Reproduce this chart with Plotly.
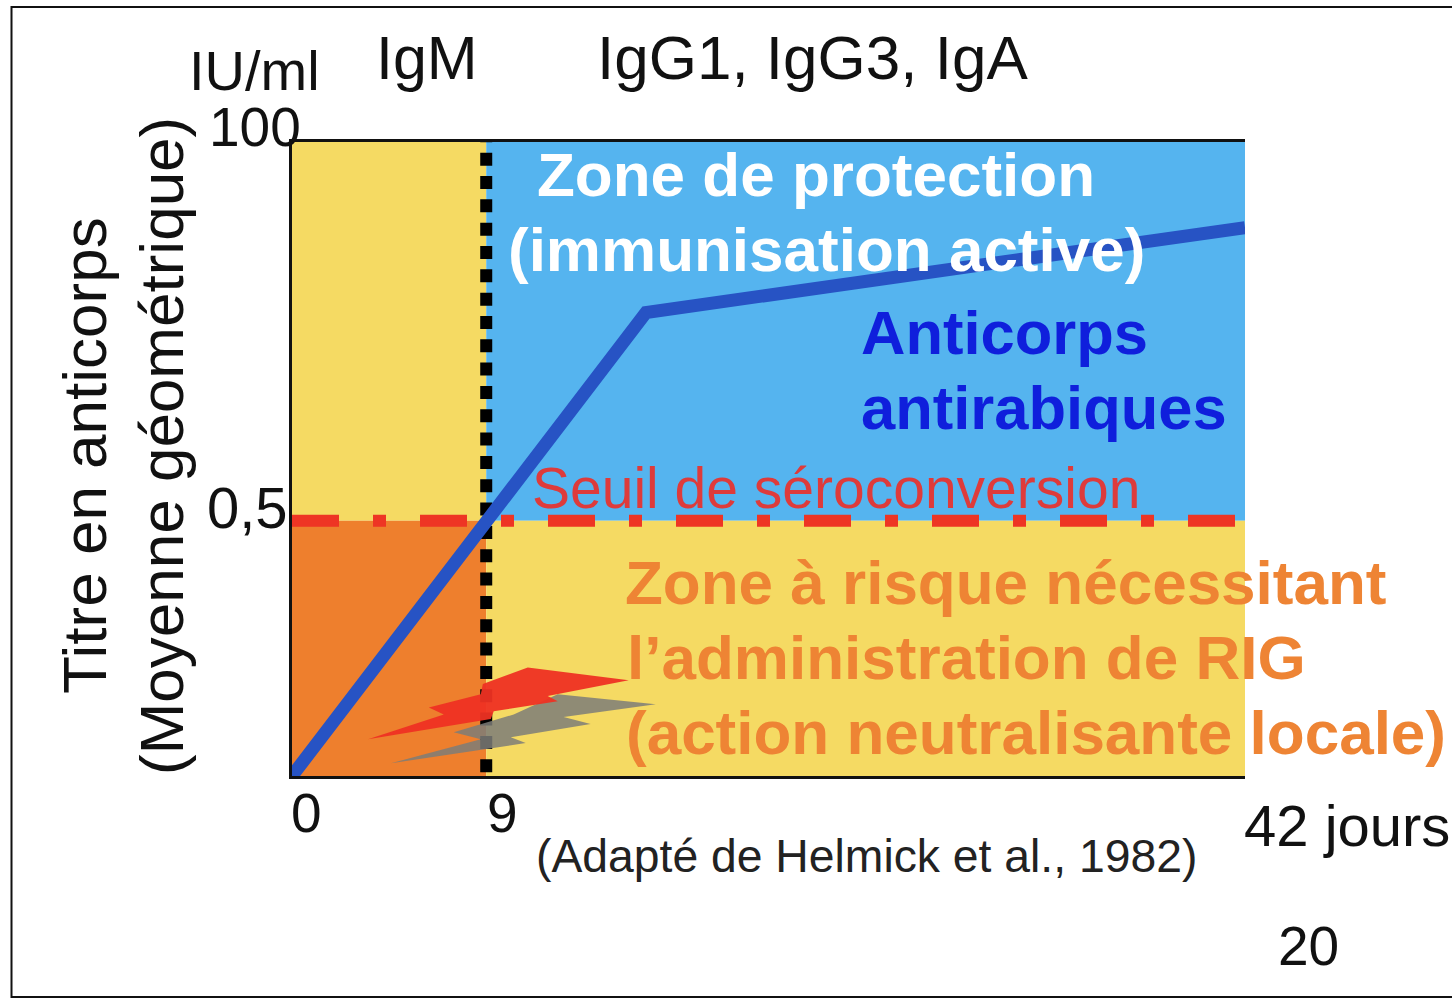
import plotly.graph_objects as go

W, H = 1452, 999
L, R, T, B = 292, 1245, 142, 776

# --- data ---
antibody_days = [0, 15.6, 42]
antibody_titre = [0, 73.1, 86.5]
threshold_value = 40.25
threshold_days = [0, 42]
igm_day = 8.56
igm_titre = [102, 0]
red_bolt_x = [3.35, 6.69, 6.03, 8.32, 8.41, 10.39, 14.84, 11.27, 11.71, 8.89, 8.76, 3.35]
red_bolt_y = [5.8, 9.7, 10.8, 12.9, 14.5, 17.1, 15.1, 12.6, 11.8, 10.2, 9.0, 5.8]
grey_bolt_x = [4.36, 8.32, 7.13, 9.77, 11.71, 16.03, 11.97, 13.16, 9.64, 10.30, 4.36]
grey_bolt_y = [2.0, 5.8, 6.9, 9.7, 12.9, 11.3, 9.3, 8.2, 6.1, 5.2, 2.0]

YELLOW, BLUE, ORANGE = "#F5DA63", "#55B4EF", "#EE7F2D"
FONT = "Liberation Sans"


def px(x):
    return x / W


def py(y):
    return 1 - y / H


fig = go.Figure()
fig.add_trace(go.Scatter(x=threshold_days, y=[threshold_value] * 2, mode="lines",
                         line=dict(color="#EE3524", width=12, dash="47px,34px,13px,34px"),
                         hoverinfo="skip"))
fig.add_trace(go.Scatter(x=[igm_day] * 2, y=igm_titre, mode="lines", cliponaxis=False,
                         line=dict(color="black", width=12, dash="13px,10.33px"),
                         hoverinfo="skip"))
fig.add_trace(go.Scatter(x=grey_bolt_x, y=grey_bolt_y, mode="lines", fill="toself",
                         fillcolor="rgba(125,125,120,0.85)", line=dict(width=0),
                         hoverinfo="skip"))
fig.add_trace(go.Scatter(x=red_bolt_x, y=red_bolt_y, mode="lines", fill="toself",
                         fillcolor="rgba(238,50,35,0.95)", line=dict(width=0),
                         hoverinfo="skip"))
fig.add_trace(go.Scatter(x=antibody_days, y=antibody_titre, mode="lines", cliponaxis=False,
                         line=dict(color="#2753C4", width=13), hoverinfo="skip"))

shapes = [
    dict(type="rect", xref="x", yref="y", x0=0, x1=igm_day, y0=threshold_value, y1=100,
         fillcolor=YELLOW, line_width=0, layer="below"),
    dict(type="rect", xref="x", yref="y", x0=igm_day, x1=42, y0=threshold_value, y1=100,
         fillcolor=BLUE, line_width=0, layer="below"),
    dict(type="rect", xref="x", yref="y", x0=0, x1=igm_day, y0=0, y1=threshold_value,
         fillcolor=ORANGE, line_width=0, layer="below"),
    dict(type="rect", xref="x", yref="y", x0=igm_day, x1=42, y0=0, y1=threshold_value,
         fillcolor=YELLOW, line_width=0, layer="below"),
    dict(type="rect", xref="paper", yref="paper", x0=px(11.5), x1=px(1470), y0=py(997), y1=py(7),
         line=dict(color="#111", width=2), fillcolor="rgba(0,0,0,0)", layer="below"),
]

texts = [
    ("IU/ml", 254, 71, 56, "#111", False, 0),
    ("IgM", 427, 58, 61, "#111", False, 0),
    ("IgG1, IgG3, IgA", 812, 57, 62, "#111", False, 0),
    ("100", 255, 127, 55, "#111", False, 0),
    ("0,5", 247, 507, 58, "#111", False, 0),
    ("0", 306, 813, 55, "#111", False, 0),
    ("9", 502, 813, 55, "#111", False, 0),
    ("42 jours", 1347, 825, 58, "#111", False, 0),
    ("20", 1308, 946, 55, "#111", False, 0),
    ("(Adapté de Helmick et al., 1982)", 866, 856, 46.3, "#222", False, 0),
    ("Titre en anticorps", 85, 456, 62, "#111", False, -90),
    ("(Moyenne géométrique)", 162, 446, 62, "#111", False, -90),
    ("Zone de protection", 816, 175, 62, "white", True, 0),
    ("(immunisation active)", 826, 249, 62, "white", True, 0),
    ("Anticorps", 1004, 333, 61.5, "#0F1FDC", True, 0),
    ("antirabiques", 1044, 407, 61.5, "#0F1FDC", True, 0),
    ("Seuil de séroconversion", 836, 488, 57, "#DE3B3B", False, 0),
    ("Zone à risque nécessitant", 1006, 582, 62, "#EE8434", True, 0),
    ("l’administration de RIG", 966, 657, 62, "#EE8434", True, 0),
    ("(action neutralisante locale)", 1036, 732, 62, "#EE8434", True, 0),
]
annotations = [
    dict(text=t, xref="paper", yref="paper", x=px(x), y=py(y), xanchor="center", yanchor="middle",
         showarrow=False, textangle=a,
         font=dict(family=FONT, size=s, color=c, weight="bold" if b else "normal"))
    for t, x, y, s, c, b, a in texts
]

fig.update_layout(
    width=W, height=H, autosize=False, showlegend=False,
    margin=dict(l=0, r=0, t=0, b=0), paper_bgcolor="white", plot_bgcolor="white",
    shapes=shapes, annotations=annotations,
    xaxis=dict(domain=[L / W, R / W], range=[0, 42], showgrid=False, zeroline=False,
               showticklabels=False, ticks="", showline=True, linecolor="#111", linewidth=3, mirror=True),
    yaxis=dict(domain=[1 - B / H, 1 - T / H], range=[0, 100], showgrid=False, zeroline=False,
               showticklabels=False, ticks="", showline=True, linecolor="#111", linewidth=3),
)
fig.write_html("out.html", config=dict(displayModeBar=False),
               post_script="document.body.style.margin='0';document.body.style.overflow='hidden';")
